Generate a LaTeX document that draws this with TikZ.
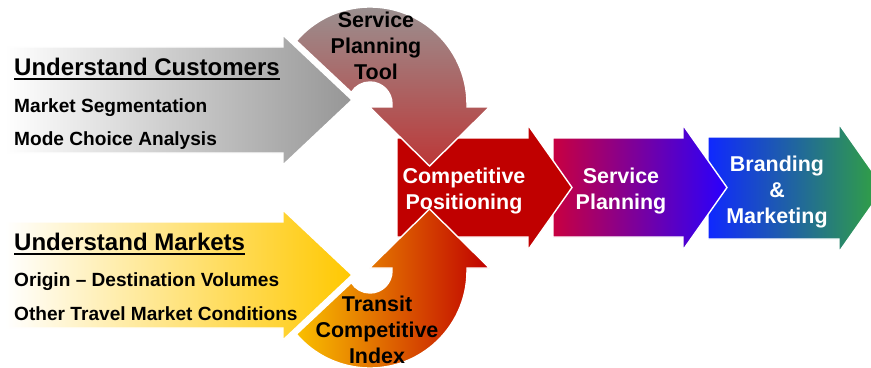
\documentclass[tikz,border=0pt]{standalone}
\usepackage{fontspec}
\setmainfont{Liberation Sans}
\begin{document}
\definecolor{grayend}{RGB}{150,150,150}
\definecolor{goldend}{RGB}{255,200,0}
\definecolor{arcgraytop}{RGB}{152,150,150}
\definecolor{arcredbottom}{RGB}{188,56,56}
\definecolor{arcgold}{RGB}{250,192,0}
\definecolor{arcorange}{RGB}{214,110,0}
\definecolor{arcred}{RGB}{192,0,0}
\definecolor{posred}{RGB}{192,0,0}
\definecolor{spcrimson}{RGB}{200,0,64}
\definecolor{spblue}{RGB}{40,0,255}
\definecolor{bmblue}{RGB}{15,40,255}
\definecolor{bmgreen}{RGB}{50,165,60}
\tikzset{
  flow/.style={draw=white, line width=1.2pt, line join=miter},
  darklabel/.style={font=\fontsize{18.3}{22.1}\selectfont\bfseries, text=black, align=center, inner sep=0pt},
  lightlabel/.style={font=\fontsize{18.3}{22.1}\selectfont\bfseries, text=white, align=center, inner sep=0pt},
  heading/.style={anchor=base west, font=\fontsize{20.5}{24}\selectfont\bfseries, inner sep=0pt},
  item/.style={anchor=base west, font=\fontsize{16.3}{20}\selectfont\bfseries, inner sep=0pt},
  rule/.style={line width=1.7pt, black},
}
\begin{tikzpicture}[x=0.03cm, y=-0.03cm]
  \clip (0,0) rectangle (871,368);

  % process chevrons, back to front
  \shadedraw[flow, left color=bmblue, right color=bmgreen]
    (708,137) -- (839,137) -- (839,124) -- (884,188) -- (839,252) -- (839,239) -- (708,239) -- cycle;
  \shadedraw[flow, left color=spcrimson, right color=spblue]
    (553,138) -- (683,138) -- (683,125) -- (727,187.5) -- (683,250) -- (683,237) -- (553,237) -- cycle;
  \filldraw[flow, fill=posred]
    (397,138) -- (528,138) -- (528,125) -- (572,187.5) -- (528,250) -- (528,237) -- (397,237) -- cycle;

  % curved feeder arrows
  \shadedraw[flow, top color=arcgraytop, bottom color=arcredbottom]
    (296.4,40.8) arc[start angle=-139.35, end angle=0, radius=97]
    -- (467,107) -- (489.5,107) -- (429.5,166) -- (369.5,107) -- (392,107) -- (392,104)
    arc[start angle=0, end angle=-148, radius=22] -- cycle;
  \shadedraw[flow, left color=arcgold, middle color=arcorange, right color=arcred]
    (296.4,334.2) arc[start angle=139.35, end angle=0, radius=97]
    -- (467,268) -- (489.5,268) -- (429.5,209) -- (369.5,268) -- (392,268) -- (392,271)
    arc[start angle=0, end angle=148, radius=22] -- cycle;

  % input arrows
  \shadedraw[flow, left color=white, right color=grayend]
    (5,47) -- (283,47) -- (283,35) -- (352,100) -- (283,165) -- (283,153) -- (5,153) -- cycle;
  \shadedraw[flow, left color=white, right color=goldend]
    (5,222) -- (283,222) -- (283,210) -- (352,275) -- (283,340) -- (283,328) -- (5,328) -- cycle;

  % labels
  \node[darklabel] (spt) at (376,46) {Service\\Planning\\Tool};
  \node[darklabel] (tci) at (377,330) {Transit\\Competitive\\Index};
  \node[lightlabel] (cp) at (464,191) {Competitive\\Positioning};
  \node[lightlabel] (sp) at (621,191) {Service\\Planning};
  \node[lightlabel] (bm) at (777,192) {Branding\\\&\\Marketing};

  \node[heading] (uc) at (14,75) {Understand Customers};
  \draw[rule] ([yshift=-3.8pt]uc.base west) -- ([yshift=-3.8pt]uc.base east);
  \node[item] (ms) at (14,112) {Market Segmentation};
  \node[item] (mc) at (14,145) {Mode Choice Analysis};

  \node[heading] (um) at (14,250) {Understand Markets};
  \draw[rule] ([yshift=-3.8pt]um.base west) -- ([yshift=-3.8pt]um.base east);
  \node[item] (od) at (14,286) {Origin – Destination Volumes};
  \node[item] (ot) at (14,320) {Other Travel Market Conditions};
\end{tikzpicture}
\end{document}
